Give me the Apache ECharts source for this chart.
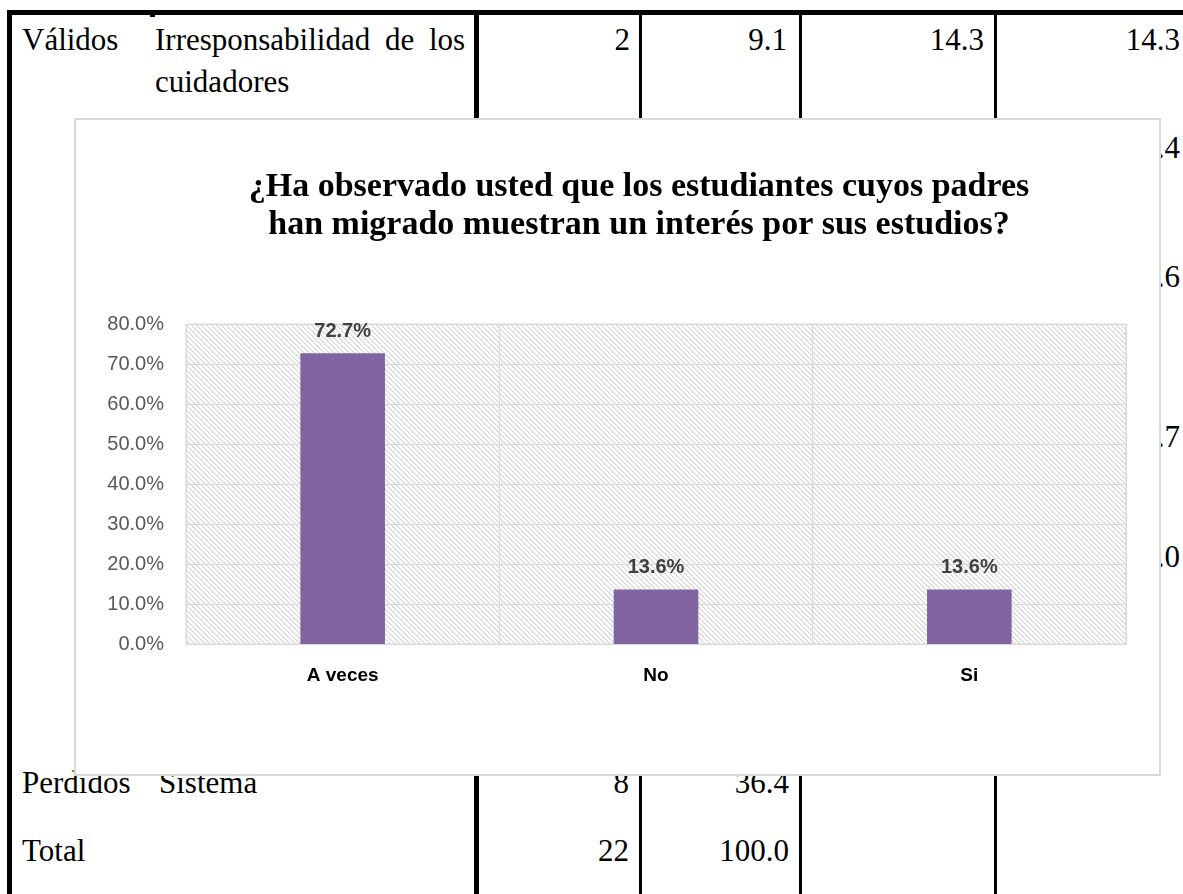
<!DOCTYPE html>
<html>
<head>
<meta charset="utf-8">
<script src="https://cdn.jsdelivr.net/npm/echarts@6/dist/echarts.min.js"></script>
<style>
  body { margin: 0; background: #fff; width: 1183px; height: 894px; overflow: hidden; position: relative; }
  .ln { position: absolute; background: #000; }
  .tx { position: absolute; font-family: "Liberation Serif", serif; font-size: 31px; line-height: 31px; color: #000; white-space: nowrap; }
  .r { text-align: right; width: 200px; }
  #chart {
    position: absolute; left: 74px; top: 118px; width: 1087px; height: 658px;
    box-sizing: border-box; border: 2px solid #d9d9d9; background: #fff;
  }
</style>
</head>
<body>
<!-- tabla del documento que queda detras del grafico -->
<div class="ln" style="left:7px; top:10px; width:1176px; height:5px"></div>
<div class="ln" style="left:7px; top:10px; width:5px; height:884px"></div>
<div class="ln" style="left:150px; top:14px; width:5px; height:3px"></div>
<div class="ln" style="left:474px; top:15px; width:5px; height:879px"></div>
<div class="ln" style="left:639px; top:15px; width:3px; height:879px"></div>
<div class="ln" style="left:799px; top:15px; width:3px; height:879px"></div>
<div class="ln" style="left:994px; top:15px; width:3px; height:879px"></div>

<div class="tx" style="left:22px; top:24px">Válidos</div>
<div class="tx" style="left:155px; top:24px; word-spacing:7px">Irresponsabilidad de los</div>
<div class="tx" style="left:155px; top:66px">cuidadores</div>
<div class="tx r" style="left:430px; top:24px">2</div>
<div class="tx r" style="left:587px; top:24px">9.1</div>
<div class="tx r" style="left:784px; top:24px">14.3</div>
<div class="tx r" style="left:980px; top:24px">14.3</div>
<div class="tx r" style="left:980px; top:132px">.4</div>
<div class="tx r" style="left:980px; top:261px">.6</div>
<div class="tx r" style="left:980px; top:421px">.7</div>
<div class="tx r" style="left:980px; top:541px">.0</div>

<div class="tx" style="left:22px; top:767px">Perdidos</div>
<div class="tx" style="left:159px; top:767px">Sistema</div>
<div class="tx r" style="left:429px; top:767px">8</div>
<div class="tx r" style="left:589px; top:767px">36.4</div>
<div class="tx" style="left:22px; top:835px">Total</div>
<div class="tx r" style="left:429px; top:835px">22</div>
<div class="tx r" style="left:589px; top:835px">100.0</div>

<div id="chart"></div>

<script>
const categories = ['A veces', 'No', 'Si']
const percentages = [72.7, 13.6, 13.6]
const yMax = 80
const yStep = 10
const titleText = '¿Ha observado usted que los estudiantes cuyos padres\nhan migrado muestran un interés por sus estudios?'

// trama de lineas diagonales del fondo del area de trazado
function hatchPattern() {
  const c = document.createElement('canvas')
  c.width = 5
  c.height = 5
  const g = c.getContext('2d')
  g.fillStyle = '#fff'
  g.fillRect(0, 0, 5, 5)
  for (let i = 0; i < 5; i++) {
    g.fillStyle = '#d2d2d2'
    g.fillRect(i, i, 1, 1)
    g.fillStyle = '#ececec'
    g.fillRect((i + 1) % 5, i, 1, 1)
  }
  return c
}

const option = {
  animation: false,
  title: {
    text: titleText,
    left: 563,
    top: 48,
    padding: 0,
    textAlign: 'center',
    textStyle: {
      fontFamily: 'Liberation Serif',
      fontWeight: 'bold',
      fontSize: 34,
      lineHeight: 38,
      color: '#000'
    }
  },
  grid: {
    show: true,
    left: 110,
    top: 204,
    width: 940,
    height: 320,
    outerBoundsMode: 'none',
    backgroundColor: { image: hatchPattern(), repeat: 'repeat' },
    borderColor: '#d9d9d9',
    borderWidth: 1
  },
  xAxis: {
    type: 'category',
    data: categories,
    axisLine: { lineStyle: { color: '#d9d9d9' } },
    axisTick: { show: false },
    splitLine: { show: true, lineStyle: { color: '#d9d9d9' } },
    axisLabel: {
      margin: 22,
      fontFamily: 'Liberation Sans',
      fontWeight: 'bold',
      fontSize: 19,
      color: '#000'
    }
  },
  yAxis: {
    type: 'value',
    min: 0,
    max: yMax,
    interval: yStep,
    axisLine: { show: false },
    axisTick: { show: false },
    splitLine: { lineStyle: { color: '#d9d9d9' } },
    axisLabel: {
      margin: 22,
      fontFamily: 'Liberation Sans',
      fontSize: 20,
      color: '#595959',
      formatter: v => v.toFixed(1) + '%'
    }
  },
  series: [
    {
      type: 'bar',
      data: percentages,
      barWidth: '27%',
      itemStyle: { color: '#8064a2' },
      label: {
        show: true,
        position: 'top',
        distance: 12,
        fontFamily: 'Liberation Sans',
        fontWeight: 'bold',
        fontSize: 20,
        color: '#404040',
        formatter: p => p.value.toFixed(1) + '%'
      }
    }
  ]
}

const chart = echarts.init(document.getElementById('chart'))
chart.setOption(option)
</script>
</body>
</html>
